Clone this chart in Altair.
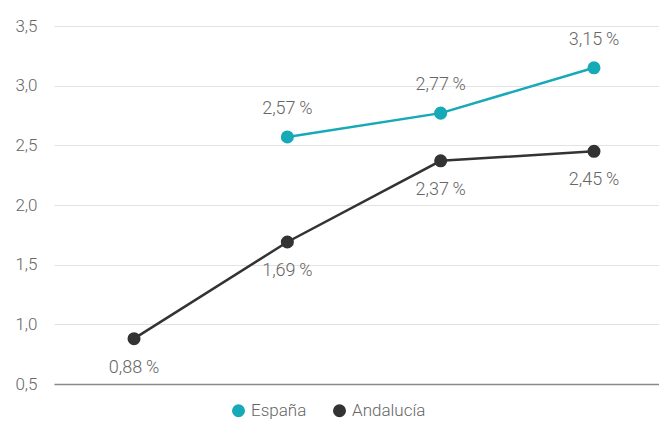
import altair as alt
import pandas as pd

periods = [1, 2, 3, 4]
espana_periods = [2, 3, 4]
espana_values = [2.57, 2.77, 3.15]
andalucia_periods = [1, 2, 3, 4]
andalucia_values = [0.88, 1.69, 2.37, 2.45]
series_names = ["España", "Andalucía"]
series_colors = ["#16A9B6", "#333333"]


def fmt(v):
    return f"{v:.2f}".replace(".", ",") + "\u2009%"


rows = []
for p, v in zip(espana_periods, espana_values):
    rows.append({"period": p, "value": v, "serie": "España", "label": fmt(v)})
for p, v in zip(andalucia_periods, andalucia_values):
    rows.append({"period": p, "value": v, "serie": "Andalucía", "label": fmt(v)})
df = pd.DataFrame(rows)

FONT = "Roboto"
TXT = "#666666"
x = alt.X("period:Q", scale=alt.Scale(domain=[0.478, 4.424], nice=False, zero=False),
          axis=alt.Axis(labels=False, ticks=False, title=None, domainColor="#8a8a8a",
                        domainWidth=1.5, grid=False))
y = alt.Y("value:Q", scale=alt.Scale(domain=[0.5, 3.5], nice=False, zero=False),
          axis=alt.Axis(values=[0.5, 1.0, 1.5, 2.0, 2.5, 3.0, 3.5], title=None,
                        labelExpr="replace(format(datum.value, '.1f'), '.', ',')",
                        domain=False, ticks=False, labelPadding=17,
                        gridColor="#e2e2e2", gridWidth=1,
                        labelFont=FONT, labelFontSize=17, labelColor=TXT,
                        labelFontWeight=300))
color = alt.Color("serie:N", scale=alt.Scale(domain=series_names, range=series_colors),
                  legend=alt.Legend(title=None, orient="none", direction="horizontal",
                                    legendX=176, legendY=376,
                                    symbolType="circle", symbolSize=170,
                                    labelFont=FONT, labelFontSize=17, labelColor=TXT,
                                    labelFontWeight=300, columnPadding=24,
                                    symbolStrokeWidth=0))

base = alt.Chart(df).encode(x=x, y=y, color=color)
lines = base.mark_line(strokeWidth=2.5)
points = base.mark_point(filled=True, size=170, opacity=1)
lab_es = base.transform_filter(alt.datum.serie == "España").mark_text(
    dy=-28, font=FONT, fontSize=18, fontWeight=300).encode(
    text="label:N", color=alt.value(TXT))
lab_an = base.transform_filter(alt.datum.serie == "Andalucía").mark_text(
    dy=29, font=FONT, fontSize=18, fontWeight=300).encode(
    text="label:N", color=alt.value(TXT))

chart = alt.layer(lines, points, lab_es, lab_an).properties(
    width=605, height=358,
    autosize=alt.AutoSizeParams(type="none"),
    padding={"left": 46, "top": 18, "right": 0, "bottom": 38},
).configure_view(stroke=None)

chart.save("out.html", embed_options={"renderer": "svg", "actions": False})
